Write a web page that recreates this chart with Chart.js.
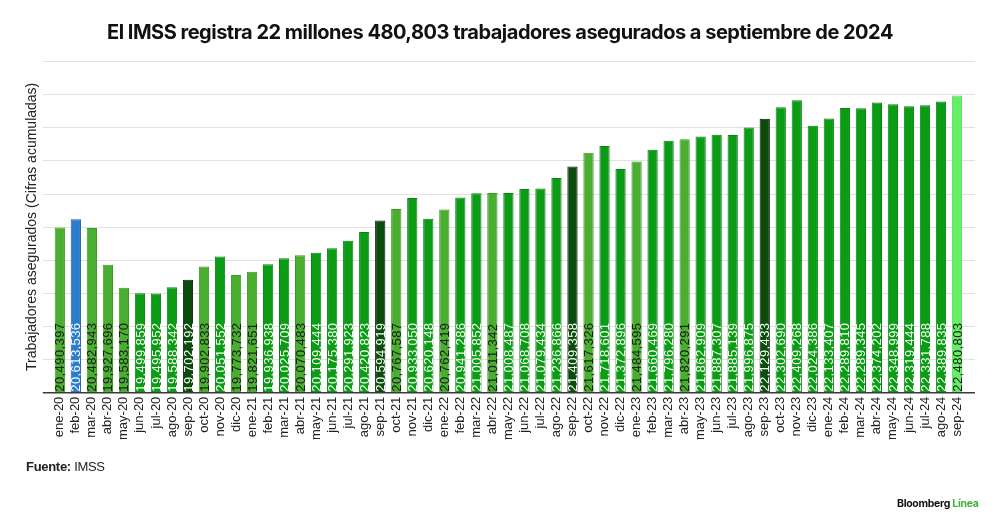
<!DOCTYPE html>
<html>
<head>
<meta charset="utf-8">
<script src="https://cdn.jsdelivr.net/npm/chart.js@4.4.1/dist/chart.umd.min.js"></script>
<style>
  html, body { margin: 0; padding: 0; background: #fff; }
  #wrap { position: relative; width: 1000px; height: 530px; overflow: hidden; }
  #c { position: absolute; left: 0; top: 0; }
  #title { position: absolute; left: 0; width: 1000px; top: 20px; text-align: center;
           font-family: Inter, "Liberation Sans", sans-serif; font-weight: 700; font-size: 20px;
           letter-spacing: -0.5px; color: #111; }
  #source { position: absolute; left: 26px; top: 459px; font-family: "Liberation Sans", Arial, sans-serif;
            font-size: 13px; color: #222; letter-spacing: -0.3px; }
  #source b { font-weight: 700; }
  #logo { position: absolute; left: 897px; top: 497px; font-family: Inter, "Liberation Sans", sans-serif;
          font-weight: 700; font-size: 10.5px; color: #111; letter-spacing: -0.3px; }
  #logo span { color: #3cb43c; }
</style>
</head>
<body>
<div id="wrap">
  <canvas id="c" width="1000" height="530"></canvas>
  <div id="title">El IMSS registra 22 millones 480,803 trabajadores asegurados a septiembre de 2024</div>
  <div id="source"><b>Fuente:</b> IMSS</div>
  <div id="logo">Bloomberg <span>Línea</span></div>
</div>
<script>
// ---- data ----
const categories = [
  'ene-20','feb-20','mar-20','abr-20','may-20','jun-20','jul-20','ago-20','sep-20','oct-20','nov-20','dic-20',
  'ene-21','feb-21','mar-21','abr-21','may-21','jun-21','jul-21','ago-21','sep-21','oct-21','nov-21','dic-21',
  'ene-22','feb-22','mar-22','abr-22','may-22','jun-22','jul-22','ago-22','sep-22','oct-22','nov-22','dic-22',
  'ene-23','feb-23','mar-23','abr-23','may-23','jun-23','jul-23','ago-23','sep-23','oct-23','nov-23','dic-23',
  'ene-24','feb-24','mar-24','abr-24','may-24','jun-24','jul-24','ago-24','sep-24'
];
const workers = [
  20490397, 20613536, 20482943, 19927696, 19583170, 19499859, 19495952, 19588342, 19702192, 19902833, 20051552, 19773732,
  19821651, 19936938, 20025709, 20070483, 20109444, 20175380, 20291923, 20420823, 20594919, 20767587, 20933050, 20620148,
  20762419, 20941286, 21005852, 21011342, 21008487, 21068708, 21079434, 21236866, 21409358, 21617326, 21718601, 21372896,
  21484595, 21660469, 21796280, 21820291, 21862909, 21887307, 21885139, 21996875, 22129433, 22302690, 22409268, 22024386,
  22133407, 22289810, 22289345, 22374202, 22348999, 22319444, 22331788, 22389835, 22480803
];
const yMin = 18000000;
const yMax = 23000000;
const yStep = 500000;
const yTitle = 'Trabajadores asegurados (Cifras acumuladas)';

// ---- style ----
const kindPattern = 'LBLLLGGGDLG' + 'LLGGLGGGGDL' + 'GGLGGLGGGGD' + 'LGGLGGLGGGGD' + 'GGGGGGGGGGG' + 'S';
const palette = {
  L: { fill: '#4aae30', border: '#3a9a22', text: '#1c1c1c' },
  G: { fill: '#0b9b14', border: '#07850f', text: '#f4fff2' },
  D: { fill: '#0b4b0b', border: '#021802', text: '#f4fff2' },
  B: { fill: '#2b7dcc', border: '#1b5c9c', text: '#f4f9ff' },
  S: { fill: '#66ee66', border: '#55dd55', text: '#1c1c1c' }
};
const kinds = categories.map((_, i) => kindPattern[i]);

const FONT = '"Liberation Sans", Arial, sans-serif';

const extrasPlugin = {
  id: 'extras',
  beforeDatasetsDraw(chart) {
    const { ctx, chartArea, scales: { y } } = chart;
    const l = chartArea.left - 9, r = chartArea.right + 10;
    ctx.save();
    ctx.strokeStyle = '#e2e2e2';
    ctx.lineWidth = 1;
    y.ticks.forEach(t => {
      if (t.value === y.min) return;
      const py = Math.round(y.getPixelForValue(t.value)) + 0.5;
      ctx.beginPath(); ctx.moveTo(l, py); ctx.lineTo(r, py); ctx.stroke();
    });
    ctx.restore();
  },
  afterDraw(chart) {
    const { ctx, chartArea, scales: { x, y } } = chart;
    const values = chart.data.datasets[0].data;
    const by = y.getPixelForValue(y.min);
    ctx.save();
    ctx.font = '13px ' + FONT;
    if ('letterSpacing' in ctx) ctx.letterSpacing = '0.4px';
    ctx.textAlign = 'left';
    ctx.textBaseline = 'alphabetic';
    for (let i = 0; i < values.length; i++) {
      const px = x.getPixelForValue(i);
      const txt = Number(values[i]).toLocaleString('en-US');
      ctx.save();
      ctx.translate(px, by - 1);
      ctx.rotate(-Math.PI / 2);
      ctx.fillStyle = palette[kinds[i]].text;
      ctx.fillText(txt, 0, 4.6);
      ctx.restore();
    }
    if ('letterSpacing' in ctx) ctx.letterSpacing = '0px';
    // baseline
    ctx.strokeStyle = '#3a3a3a';
    ctx.lineWidth = 1.5;
    ctx.beginPath();
    ctx.moveTo(chartArea.left - 9, by);
    ctx.lineTo(chartArea.right + 10, by);
    ctx.stroke();
    ctx.restore();
  }
};

new Chart(document.getElementById('c'), {
  type: 'bar',
  data: {
    labels: categories,
    datasets: [{
      data: workers,
      backgroundColor: kinds.map(k => palette[k].fill),
      borderColor: kinds.map(k => palette[k].border),
      borderWidth: 1,
      barPercentage: 0.64,
      categoryPercentage: 1.0
    }]
  },
  options: {
    responsive: false,
    animation: false,
    devicePixelRatio: 1,
    layout: { padding: { left: 20, right: 35, top: 61, bottom: 86 } },
    plugins: { legend: { display: false }, tooltip: { enabled: false } },
    scales: {
      x: {
        grid: { display: false, drawTicks: false },
        border: { display: false },
        ticks: {
          autoSkip: false, maxRotation: 90, minRotation: 90, padding: 4,
          color: '#222', font: { family: FONT, size: 13 }
        }
      },
      y: {
        min: yMin, max: yMax,
        grid: { display: false, drawTicks: false },
        border: { display: false },
        ticks: { display: false, stepSize: yStep },
        title: {
          display: true, text: yTitle, color: '#222',
          font: { family: FONT, size: 14 },
          padding: { top: 4, bottom: 11 }
        }
      }
    }
  },
  plugins: [extrasPlugin]
});
</script>
</body>
</html>
